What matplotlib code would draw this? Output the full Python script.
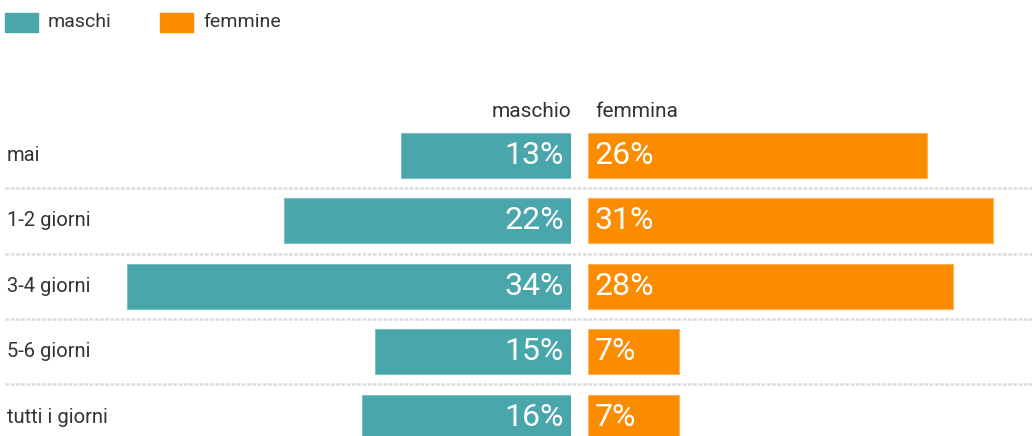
import matplotlib.pyplot as plt
from matplotlib.patches import Rectangle

categories = ['mai', '1-2 giorni', '3-4 giorni', '5-6 giorni', 'tutti i giorni']
maschi = [13, 22, 34, 15, 16]
femmine = [26, 31, 28, 7, 7]
legend_labels = ['maschi', 'femmine']
headers = ['maschio', 'femmina']

teal = '#49A6AB'
orange = '#FB8C00'
text_col = '#333333'

W, H = 1032, 436
fig = plt.figure(figsize=(W / 100, H / 100), dpi=100)
plt.rcParams['font.family'] = ['Roboto', 'DejaVu Sans']

# row geometry (in row units)
y_top, y_bot = -2.378, 4.289
bar_h = 0.69
pos = list(range(len(categories)))

# background axes for labels / separators
bg = fig.add_axes([0, 0, 1, 1])
bg.set_xlim(0, 1)
bg.set_ylim(y_bot, y_top)
bg.axis('off')
for i in range(len(categories) - 1):
    bg.plot([5 / W, 1], [i + 0.5, i + 0.5], color='#dcdcdc', lw=1.8,
            ls=(0, (1.5, 0.6)))
for i, c in enumerate(categories):
    bg.text(7 / W, i, c, ha='left', va='center', fontsize=14.5, color=text_col)
bg.text(571 / W, -0.68, headers[0], ha='right', va='center', fontsize=15, color=text_col)
bg.text(595 / W, -0.68, headers[1], ha='left', va='center', fontsize=15, color=text_col)

# legend
for x0, col, lab in [(5, teal, legend_labels[0]), (160, orange, legend_labels[1])]:
    fig.patches.append(Rectangle((x0 / W, 1 - 32 / H), 33 / W, 19 / H,
                                 transform=fig.transFigure, color=col))
    fig.text((x0 + 43) / W, 1 - 22 / H, lab, ha='left', va='center',
             fontsize=14, color=text_col)

px_per = 13.05
# male axes (right-anchored at 571)
axm = fig.add_axes([5 / W, 0, 566 / W, 1])
axm.set_xlim(566 / px_per, 0)
axm.set_ylim(y_bot, y_top)
axm.axis('off')
axm.barh(pos, maschi, height=bar_h, color=teal, edgecolor='#7cc0c4', lw=0.8)
for i, v in enumerate(maschi):
    axm.annotate(f'{v}%', (0, i), xytext=(-5, 0), textcoords='offset points',
                 ha='right', va='center', fontsize=23, color='white')

# female axes (left-anchored at 588)
axf = fig.add_axes([588 / W, 0, (W - 588) / W, 1])
axf.set_xlim(0, (W - 588) / px_per)
axf.set_ylim(y_bot, y_top)
axf.axis('off')
axf.barh(pos, femmine, height=bar_h, color=orange, edgecolor='#fdb25a', lw=0.8)
for i, v in enumerate(femmine):
    axf.annotate(f'{v}%', (0, i), xytext=(5, 0), textcoords='offset points',
                 ha='left', va='center', fontsize=23, color='white')

fig.savefig('out.png', dpi=100)
